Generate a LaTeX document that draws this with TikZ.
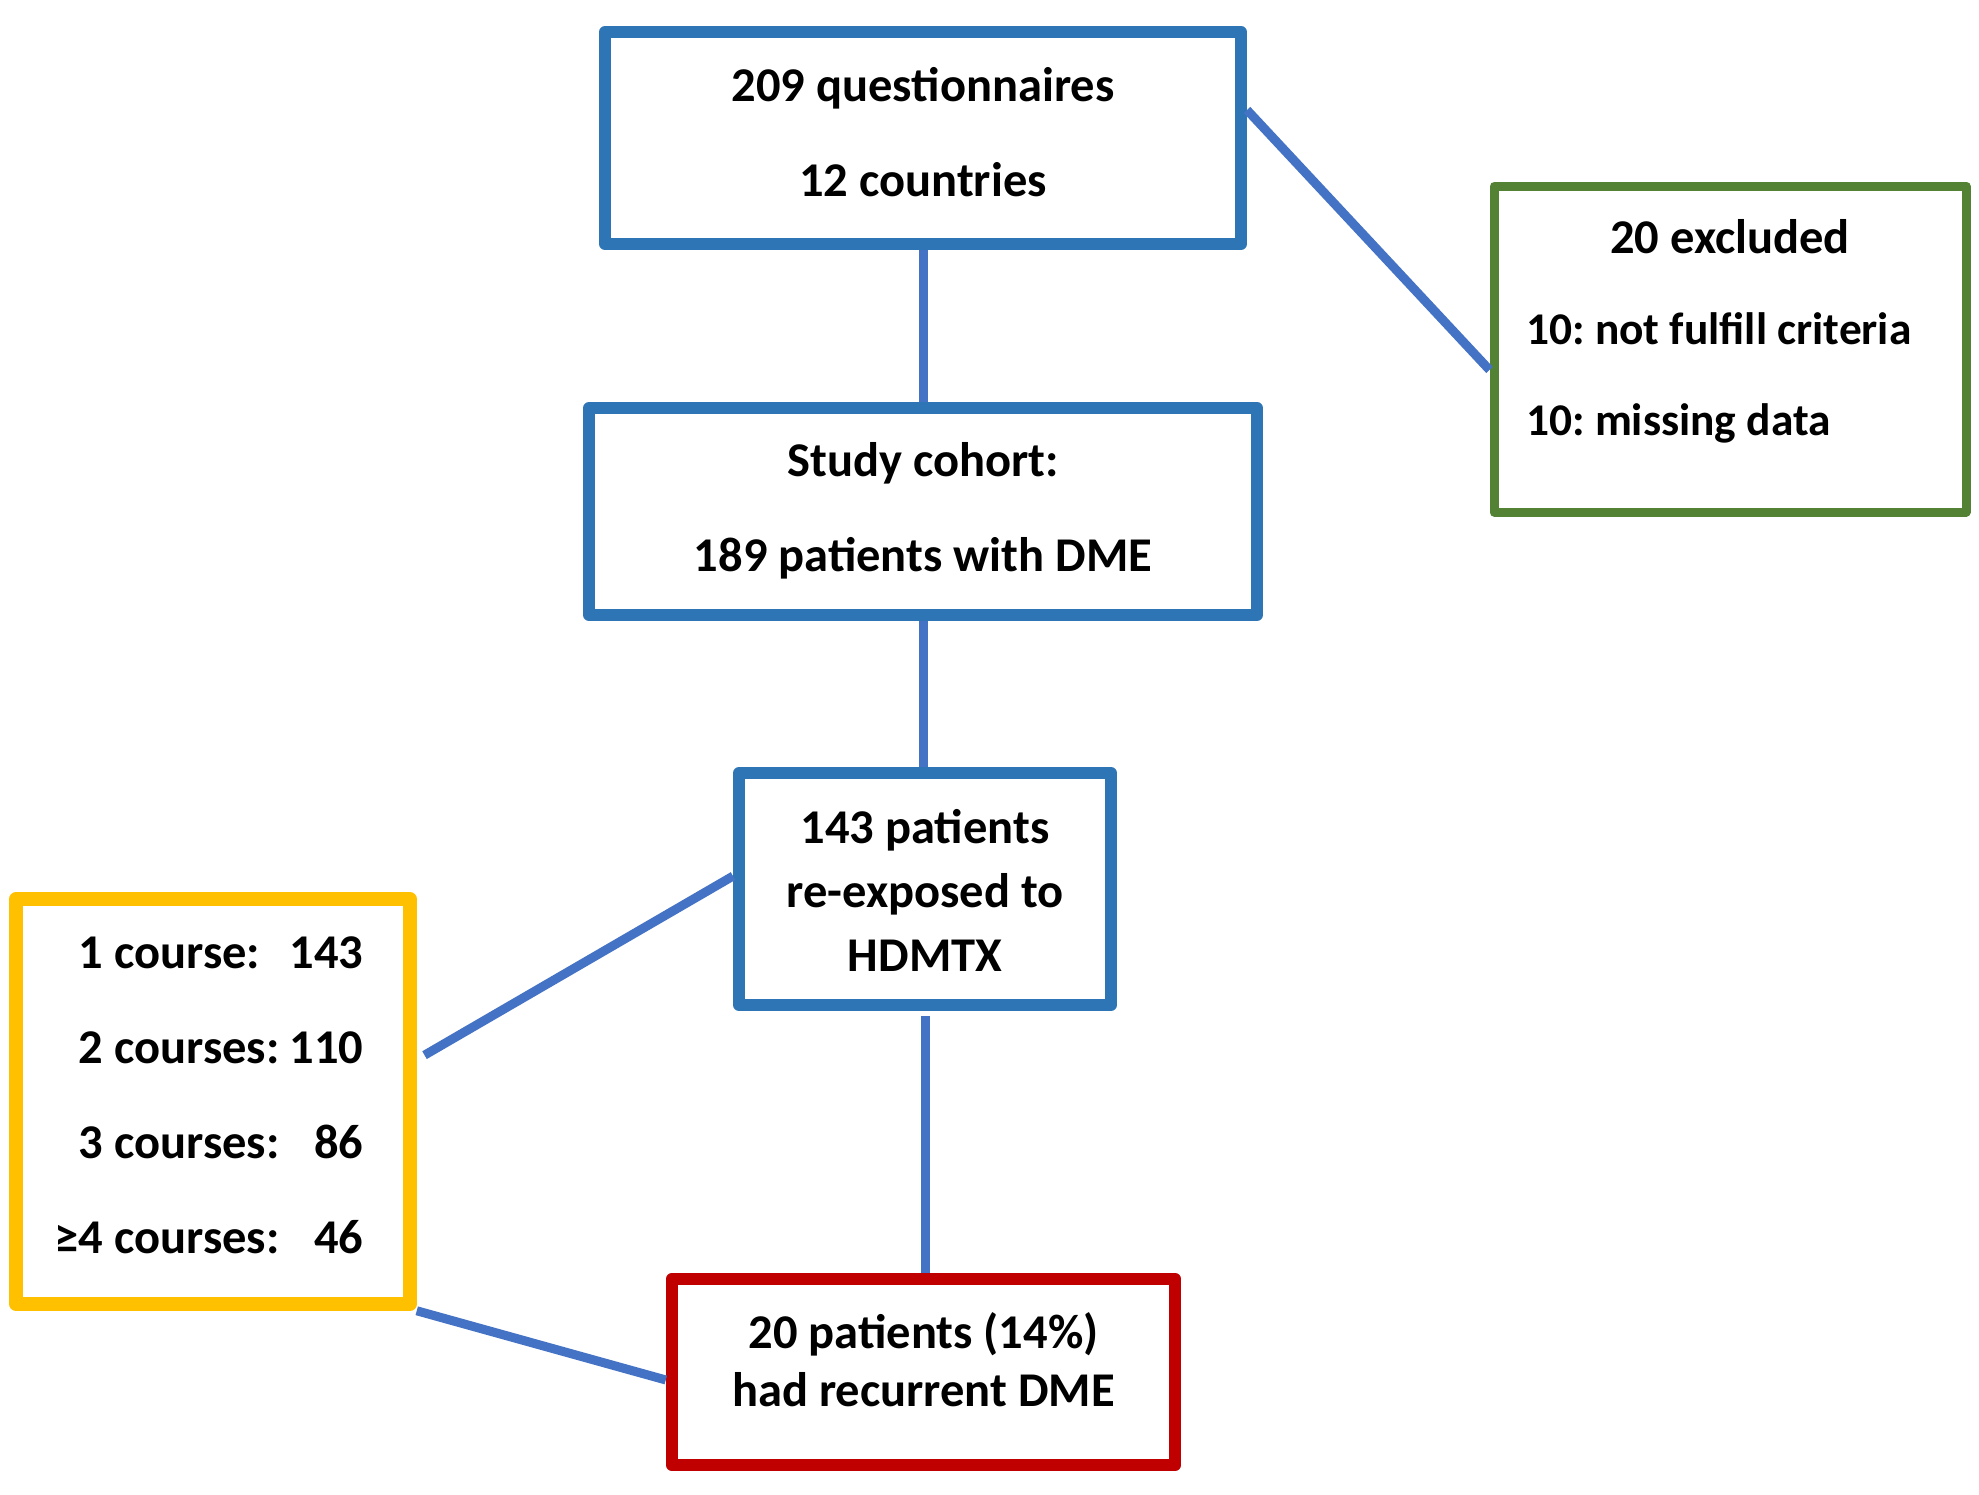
\documentclass[tikz,border=0pt]{standalone}
\usepackage{fontspec}
\setmainfont{Carlito}
\usetikzlibrary{calc}
\definecolor{boxblue}{HTML}{2E75B6}
\definecolor{linkblue}{HTML}{4472C4}
\definecolor{exgreen}{HTML}{548235}
\definecolor{gold}{HTML}{FFC000}
\definecolor{darkred}{HTML}{C00000}
\frenchspacing
\begin{document}
\begin{tikzpicture}[x=0.5pt,y=-0.5pt,
  box/.style={draw, rectangle, inner sep=0pt, line join=round, fill=white},
  bluebox/.style={box, draw=boxblue, line width=6pt},
  link/.style={draw=linkblue, line width=4.5pt},
  fs/.style={font=\bfseries\fontsize{24.25}{#1}\selectfont}
]
\fill[white] (0,0) rectangle (1979,1494);
\useasboundingbox (0,0) rectangle (1979,1494);

\node[bluebox, fs=47.5, minimum width=318pt, minimum height=106pt, align=center, text height=58.7pt, text depth=0pt] (q) at (923,138) {209 questionnaires\\12 countries};

\node[bluebox, fs=47.5, minimum width=334pt, minimum height=103.5pt, align=center, text height=60.2pt, text depth=0pt] (coh) at (923,511.5) {Study cohort:\\189 patients with DME};

\node[bluebox, fs=31.8, minimum width=186pt, minimum height=116pt, align=center, text height=82pt, text depth=0pt] (re) at (925,889) {143 patients\\re-exposed to\\HDMTX};

\node[box, draw=darkred, line width=6.25pt, fs=29, minimum width=251.5pt, minimum height=93pt, align=center, text height=34.7pt, text depth=0pt] (rec) at (923.5,1372) {20 patients (14\%)\\had recurrent DME};

\node[box, draw=gold, line width=6.75pt, fs=47.5, minimum width=197pt, minimum height=202.5pt, text height=0pt, text depth=133.5pt] (crs) at (213,1101.5) {\begin{tabular}[t]{@{\hspace{8pt}}l@{\hspace{5pt}}r@{}}1 course: & 143\\ 2 courses: & 110\\ 3 courses: & 86\\ \llap{≥}4 courses: & 46\end{tabular}};

\node[box, draw=exgreen, line width=4.5pt, fs=45.5, minimum width=236pt, minimum height=163pt, text height=0pt, text depth=95.7pt] (ex) at (1730,349) {\begin{tabular}[t]{@{}l@{\hspace{11.2pt}}}\multicolumn{1}{@{\hspace{5.6pt}}c@{\hspace{5.6pt}}}{20 excluded}\\ \fontsize{22.7}{45.5}\selectfont 10: not fulfill criteria\\ \fontsize{22.7}{45.5}\selectfont 10: missing data\end{tabular}};

\draw[link] (q.south) -- (coh.north);
\draw[link] (coh.south) -- (coh.south |- re.north);
\draw[link, shorten <=2.5pt] (re.south) -- (re.south |- rec.north);
\draw[link] ($(q.north east)!0.375!(q.south east)$) -- ($(ex.north west)!0.5625!(ex.south west)$);
\draw[link, shorten >=4.5pt] ($(re.north west)!0.447!(re.south west)$) -- ($(crs.north east)!0.40!(crs.south east)$);
\draw[link] (crs.south east) -- ($(rec.north west)!0.54!(rec.south west)$);
\end{tikzpicture}
\end{document}
